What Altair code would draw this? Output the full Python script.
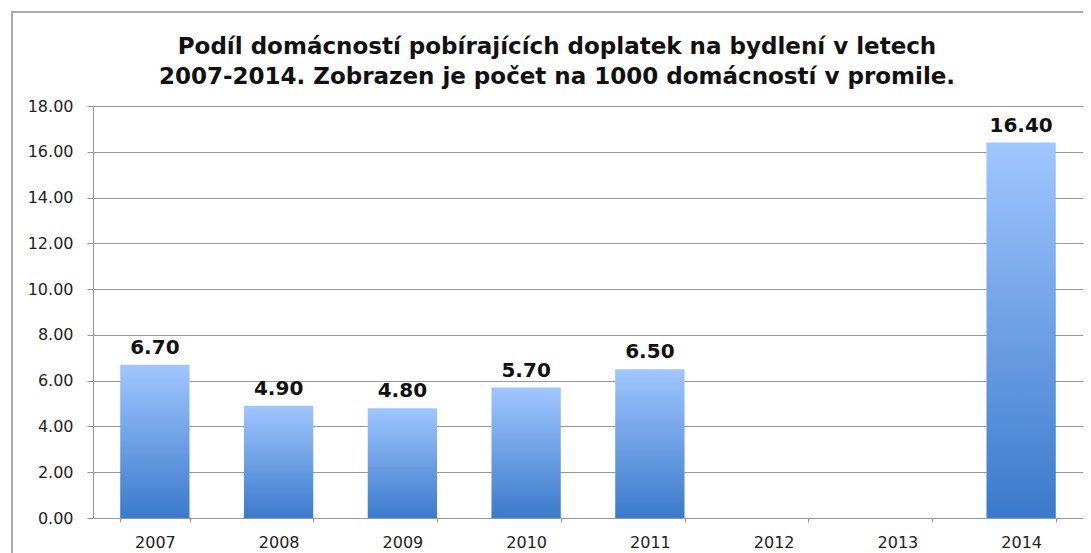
import altair as alt
import pandas as pd

years = ["2007", "2008", "2009", "2010", "2011", "2012", "2013", "2014"]
values = [6.70, 4.90, 4.80, 5.70, 6.50, None, None, 16.40]
y_ticks = [0, 2, 4, 6, 8, 10, 12, 14, 16, 18]

title_lines = [
    "Podíl domácností pobírajících doplatek na bydlení v letech",
    "2007-2014. Zobrazen je počet na 1000 domácností v promile.",
]

df = pd.DataFrame({"rok": years, "hodnota": values})
df_valid = df.dropna()

FONT = "DejaVu Sans"

x_enc = alt.X(
    "rok:O",
    scale=alt.Scale(domain=years, paddingInner=0.44, paddingOuter=0.22),
    axis=alt.Axis(
        title=None, labelAngle=0, tickBand="extent", tickSize=4,
        labelPadding=12, labelFontSize=16, labelColor="#222",
        domainColor="#999", tickColor="#999", grid=False,
        labelFont=FONT,
    ),
)
y_enc = alt.Y(
    "hodnota:Q",
    scale=alt.Scale(domain=[0, 18], nice=False),
    axis=alt.Axis(
        title=None, values=y_ticks, format=".2f", tickSize=6,
        labelPadding=14, labelFontSize=16, labelColor="#222",
        domainColor="#999", tickColor="#999", gridColor="#999",
        labelFont=FONT,
    ),
)

gradient = alt.Gradient(
    gradient="linear",
    stops=[
        alt.GradientStop(color="#a0c6ff", offset=0),
        alt.GradientStop(color="#3b7acb", offset=1),
    ],
    x1=0, x2=0, y1=0, y2=1,
)

bars = alt.Chart(df_valid).mark_bar(color=gradient).encode(x=x_enc, y=y_enc)

labels = alt.Chart(df_valid).mark_text(
    baseline="bottom", dy=-7, fontSize=20, fontWeight="bold",
    font=FONT, color="#111",
).encode(x=alt.X("rok:O", scale=alt.Scale(domain=years)), y="hodnota:Q",
         text=alt.Text("hodnota:Q", format=".2f"))

frame = alt.Chart(pd.DataFrame({"a": [0]})).mark_rect(
    fillOpacity=0, stroke="#aaaaaa", strokeWidth=2
).encode(
    x=alt.value(-81), x2=alt.value(1100), y=alt.value(-94), y2=alt.value(600)
)

chart = alt.layer(frame, bars, labels).properties(
    width=990,
    height=412,
    autosize=alt.AutoSizeParams(type="none"),
    padding={"left": 85, "top": 98, "right": 0, "bottom": 35},
    title=alt.TitleParams(
        text=title_lines, fontSize=23, font=FONT, fontWeight="bold",
        color="#111", lineHeight=30, offset=-78, dx=-31, anchor="middle",
        frame="group",
    ),
).configure_view(stroke=None)

chart.save("out.html", embed_options={"renderer": "svg", "actions": False})
